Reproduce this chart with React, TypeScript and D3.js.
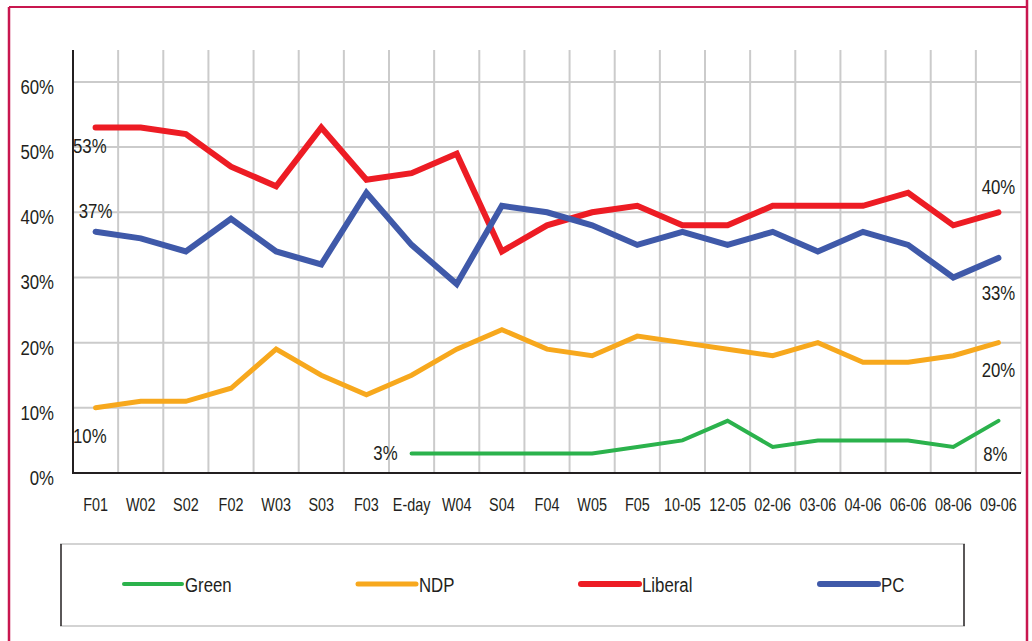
import React from 'react'
import * as d3 from 'd3'

// survey waves
const periods = ['F01', 'W02', 'S02', 'F02', 'W03', 'S03', 'F03', 'E-day', 'W04', 'S04', 'F04', 'W05', 'F05',
  '10-05', '12-05', '02-06', '03-06', '04-06', '06-06', '08-06', '09-06']

const liberal = [53, 53, 52, 47, 44, 53, 45, 46, 49, 34, 38, 40, 41, 38, 38, 41, 41, 41, 43, 38, 40]
const pc = [37, 36, 34, 39, 34, 32, 43, 35, 29, 41, 40, 38, 35, 37, 35, 37, 34, 37, 35, 30, 33]
const ndp = [10, 11, 11, 13, 19, 15, 12, 15, 19, 22, 19, 18, 21, 20, 19, 18, 20, 17, 17, 18, 20]
// green only polled from E-day on
const green = [null, null, null, null, null, null, null, 3, 3, 3, 3, 3, 4, 5, 8, 4, 5, 5, 5, 4, 8]

const yTicks = [0, 10, 20, 30, 40, 50, 60]

const series = [
  { name: 'Green', values: green, color: '#2bb24c', width: 4 },
  { name: 'NDP', values: ndp, color: '#f7a81d', width: 5 },
  { name: 'Liberal', values: liberal, color: '#ed1c24', width: 6 },
  { name: 'PC', values: pc, color: '#3f59a9', width: 6 }
]

const font = '"Liberation Sans", Arial, sans-serif'
const ink = '#231f20'

// condensed text: squeeze Liberation Sans horizontally
function T ({ x, y, size, anchor = 'start', children }: any) {
  return (
    <text transform={`translate(${x},${y}) scale(0.8,1)`} textAnchor={anchor} fontSize={size} fill={ink}>
      {children}
    </text>
  )
}

export default function App () {
  const width = 1032
  const height = 641
  const left = 73
  const right = 1021
  const top = 50
  const bottom = 473

  const x = d3.scaleBand<string>().domain(periods).range([left, right])
  const cx = (i: number) => (x(periods[i]) as number) + x.bandwidth() / 2
  const y = d3.scaleLinear().domain([0, 64.9]).range([bottom, top])

  const line = d3.line<number | null>()
    .defined(d => d !== null)
    .x((d, i) => cx(i))
    .y(d => y(d as number))

  const last = periods.length - 1
  const firstGreen = green.findIndex(d => d !== null)

  const labels = [
    { text: liberal[0] + '%', x: left, y: y(liberal[0]) + 25, anchor: 'start' },
    { text: pc[0] + '%', x: cx(0), y: y(pc[0]) - 14, anchor: 'middle' },
    { text: ndp[0] + '%', x: left, y: y(ndp[0]) + 35, anchor: 'start' },
    { text: green[firstGreen] + '%', x: cx(firstGreen) - 14, y: y(green[firstGreen] as number) + 7, anchor: 'end' },
    { text: liberal[last] + '%', x: cx(last), y: y(liberal[last]) - 18, anchor: 'middle' },
    { text: pc[last] + '%', x: cx(last), y: y(pc[last]) + 42, anchor: 'middle' },
    { text: ndp[last] + '%', x: cx(last), y: y(ndp[last]) + 34, anchor: 'middle' },
    { text: green[last] + '%', x: cx(last) + 9, y: y(green[last] as number) + 40, anchor: 'end' }
  ]

  const legendX = [124, 358, 581, 820]

  return (
    <svg width={width} height={height} style={{ position: 'absolute', left: 0, top: 0 }}
      fontFamily={font}>
      <rect width={width} height={height} fill='#fff' />
      {/* frame */}
      <line x1={9} x2={1027} y1={7} y2={7} stroke='#c8174f' strokeWidth={2} />
      <line x1={9} x2={9} y1={7} y2={height} stroke='#c8174f' strokeWidth={2.5} />
      <line x1={1027} x2={1027} y1={0} y2={height} stroke='#c8174f' strokeWidth={2.5} />

      {/* grid */}
      {yTicks.slice(1).map(t => (
        <line key={'h' + t} x1={left} x2={right} y1={y(t)} y2={y(t)} stroke='#cbcbcb' strokeWidth={2} />
      ))}
      {periods.map((p, i) => {
        const gx = left + x.step() * (i + 1)
        return <line key={'v' + i} x1={gx} x2={gx} y1={top} y2={bottom} stroke='#cbcbcb' strokeWidth={i === last ? 1 : 2} />
      })}
      <line x1={left} x2={left} y1={top} y2={bottom + 1} stroke={ink} strokeWidth={2} />
      <line x1={left} x2={right} y1={bottom} y2={bottom} stroke={ink} strokeWidth={2} />

      {/* axes text */}
      {yTicks.map(t => (
        <T key={'yt' + t} x={54} y={y(t) + 12} size={21} anchor='end'>{t}%</T>
      ))}
      {periods.map((p, i) => (
        <T key={'xt' + p} x={cx(i)} y={511} size={18} anchor='middle'>{p}</T>
      ))}

      {/* lines */}
      {series.map(s => (
        <path key={s.name} d={line(s.values) as string} fill='none' stroke={s.color}
          strokeWidth={s.width} strokeLinejoin='miter' strokeLinecap='round' />
      ))}

      {labels.map((l, i) => (
        <T key={'l' + i} x={l.x} y={l.y} size={21} anchor={l.anchor}>{l.text}</T>
      ))}

      {/* legend */}
      <line x1={60} x2={965} y1={544} y2={544} stroke='#c4c4c4' strokeWidth={1.5} />
      <line x1={60} x2={965} y1={626} y2={626} stroke='#c4c4c4' strokeWidth={1.5} />
      <line x1={61} x2={61} y1={544} y2={626} stroke={ink} strokeWidth={1.5} />
      <line x1={964} x2={964} y1={544} y2={626} stroke={ink} strokeWidth={1.5} />
      {series.map((s, i) => (
        <g key={'lg' + s.name} transform={`translate(${legendX[i]},584)`}>
          <line x1={0} x2={58} y1={0} y2={0} stroke={s.color} strokeWidth={s.width} strokeLinecap='round' />
          <T x={61} y={8} size={21}>{s.name}</T>
        </g>
      ))}
    </svg>
  )
}
